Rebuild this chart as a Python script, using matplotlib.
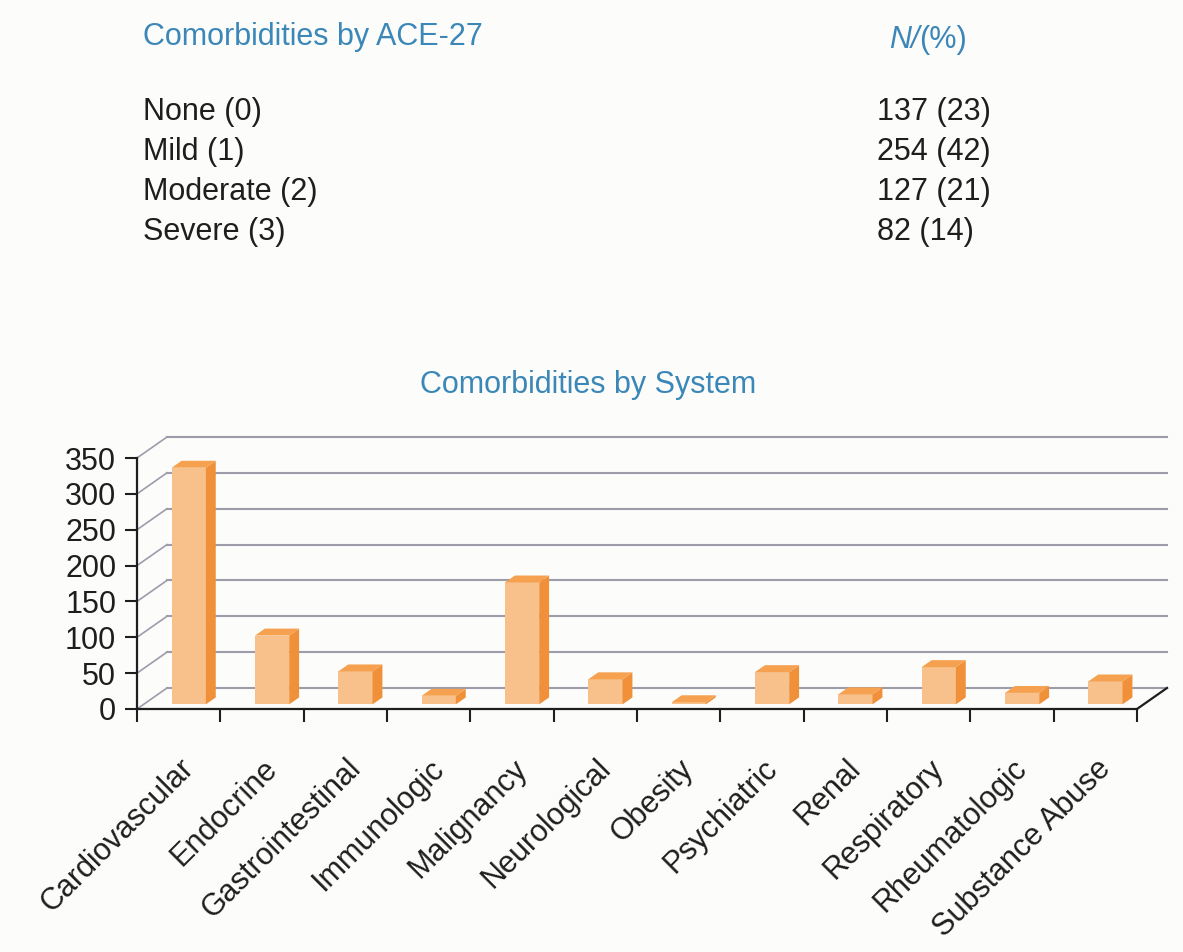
import matplotlib
matplotlib.use("Agg")
import matplotlib.pyplot as plt
from matplotlib.patches import Polygon
from matplotlib.text import Annotation
import numpy as np

plt.rcParams['font.family'] = 'Liberation Sans'

# ---- data -------------------------------------------------------------
ace_levels = ["None (0)", "Mild (1)", "Moderate (2)", "Severe (3)"]
ace_counts = [137, 254, 127, 82]
ace_pcts = [23, 42, 21, 14]

systems = ["Cardiovascular", "Endocrine", "Gastrointestinal", "Immunologic",
           "Malignancy", "Neurological", "Obesity", "Psychiatric", "Renal",
           "Respiratory", "Rheumatologic", "Substance Abuse"]
system_counts = [330, 96, 46, 12, 170, 35, 3, 45, 14, 52, 16, 32]
y_ticks = [0, 50, 100, 150, 200, 250, 300, 350]

# ---- style ------------------------------------------------------------
BG = "#fcfcfa"
BLUE = "#3a87b8"
TXT = "#1e1e1e"
GRID = "#9c9cab"
FRONT = "#f8c08a"
SIDE = "#f0913a"
TOP = "#f5a14f"
FS = 22

W, H = 1183, 952
fig = plt.figure(figsize=(W / 100, H / 100), dpi=100, facecolor=BG)


def fx(px):
    return px / W


def fy(py):
    return 1 - py / H


# ---- upper table ------------------------------------------------------
fig.text(fx(143), fy(45), "Comorbidities by ACE-27", color=BLUE, fontsize=FS,
         va="baseline")
t_n = fig.text(fx(889), fy(48), "N/", color=BLUE, fontsize=FS,
               style="italic", va="baseline")
# "(%)" set upright, right after the italic N/
fig.add_artist(Annotation("(%)", xy=(1, 0), xycoords=t_n, va="bottom",
                          ha="left", color=BLUE, fontsize=FS))

for k, (lvl, c, p) in enumerate(zip(ace_levels, ace_counts, ace_pcts)):
    yb = 120 + 40 * k
    fig.text(fx(143), fy(yb), lvl, color=TXT, fontsize=FS, va="baseline")
    fig.text(fx(877), fy(yb), f"{c} ({p})", color=TXT, fontsize=FS,
             va="baseline")

fig.text(fx(588), fy(393), "Comorbidities by System", color=BLUE,
         fontsize=FS, ha="center", va="baseline")

# ---- pseudo 3-D bar chart ---------------------------------------------
ax = fig.add_axes([fx(137), fy(709), 1000 / W, 251 / H])
ax.set_facecolor("none")
n = len(systems)
ax.set_xlim(0, n)
ax.set_ylim(0, 350)

DX, DY = 0.36, 29.3          # depth of the floor / back wall
F0, BD = 0.22, 0.33          # bar front position and bar depth
FACE_L, FACE_W = 0.337, 0.41

# back wall and side wall grid
for v in y_ticks:
    ax.plot([DX, n + DX], [v + DY, v + DY], color=GRID, lw=1.5,
            clip_on=False, zorder=1)
    ax.plot([0, DX], [v, v + DY], color=GRID, lw=1.2, clip_on=False,
            zorder=1)
ax.plot([n, n + DX], [0, DY], color=TXT, lw=1.6, clip_on=False, zorder=2)

# bars
x0 = np.arange(n) + FACE_L + F0 * DX
y0 = F0 * DY
ddx, ddy = BD * DX, BD * DY
ax.bar(x0, system_counts, width=FACE_W, bottom=y0, align="edge",
       color=FRONT, lw=0, zorder=3, clip_on=False)
for xl, v in zip(x0, system_counts):
    xr = xl + FACE_W
    yt = y0 + v
    ax.add_patch(Polygon([(xr, y0), (xr + ddx, y0 + ddy),
                          (xr + ddx, yt + ddy), (xr, yt)],
                         closed=True, fc=SIDE, ec="none", zorder=3,
                         clip_on=False))
    ax.add_patch(Polygon([(xl, yt), (xr, yt), (xr + ddx, yt + ddy),
                          (xl + ddx, yt + ddy)],
                         closed=True, fc=TOP, ec="none", zorder=3,
                         clip_on=False))

# axes
for s in ["top", "right"]:
    ax.spines[s].set_visible(False)
for s in ["left", "bottom"]:
    ax.spines[s].set_color(TXT)
    ax.spines[s].set_linewidth(1.6)
    ax.spines[s].set_zorder(4)

ax.set_yticks(y_ticks)
ax.tick_params(axis="y", length=9, width=1.5, pad=6, labelsize=FS,
               colors=TXT)
ax.set_xticks(np.arange(n + 1), minor=True)
ax.set_xticks(np.arange(n) + 0.5)
ax.set_xticklabels(systems, rotation=45, ha="right",
                   rotation_mode="anchor", fontsize=FS, color=TXT)
ax.tick_params(axis="x", which="major", length=0, pad=32)
ax.tick_params(axis="x", which="minor", length=9, width=1.5, colors=TXT)

fig.savefig("out.png", dpi=100, facecolor=BG)
